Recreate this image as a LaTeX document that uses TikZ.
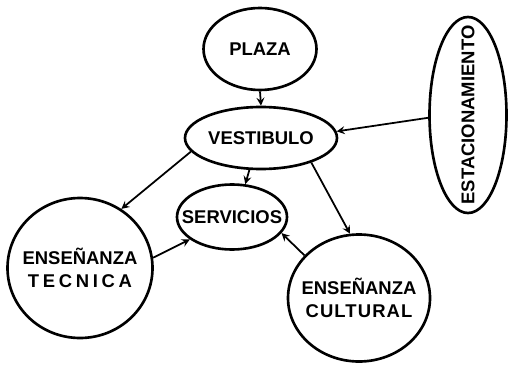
\documentclass[tikz,border=0pt]{standalone}
\usepackage{fontspec}
\setmainfont{Liberation Sans}
\usetikzlibrary{shapes.geometric}

\tikzset{
  lugar/.style={ellipse, draw, line width=1.5pt, inner sep=0pt},
  rotulo/.style={font=\bfseries\fontsize{10.5}{13}\selectfont, align=center},
  flecha/.style={-stealth, line width=1pt},
}

\begin{document}
\begin{tikzpicture}
    \useasboundingbox (0,0) rectangle (10.2,7.3);
    % espacios
    \node[lugar, minimum width=2.26cm, minimum height=1.64cm, label={[rotulo]center:PLAZA}] (plaza) at (5.2,6.32) {};
    \node[lugar, minimum width=3.04cm, minimum height=1.24cm, label={[rotulo]center:VESTIBULO}] (vest) at (5.22,4.54) {};
    \node[lugar, minimum width=1.54cm, minimum height=3.92cm, label={[rotulo, rotate=90]center:ESTACIONAMIENTO}] (estac) at (9.36,5.0) {};
    \node[lugar, minimum width=2.2cm, minimum height=1.3cm, label={[rotulo]center:SERVICIOS}] (serv) at (4.64,2.96) {};
    \node[lugar, minimum width=2.9cm, minimum height=2.8cm, label={[rotulo]center:ENSEÑANZA\\{\addfontfeature{LetterSpace=20}TECNICA}}] (tec) at (1.6,1.94) {};
    \node[lugar, minimum width=2.84cm, minimum height=2.54cm, label={[rotulo]center:ENSEÑANZA\\{\addfontfeature{LetterSpace=6}CULTURAL}}] (cult) at (7.18,1.34) {};
    % relaciones
    \draw[flecha] (plaza.south) -- (vest.north);
    \draw[flecha] (estac.184) -- (vest.5);
    \draw[flecha] (vest.250) -- (serv.68);
    \draw[flecha] (vest.191) -- (tec.55);
    \draw[flecha] (vest.334) -- (cult.98);
    \draw[flecha] (tec.8) -- (serv.208);
    \draw[flecha] (cult.142) -- (serv.342);
\end{tikzpicture}
\end{document}
